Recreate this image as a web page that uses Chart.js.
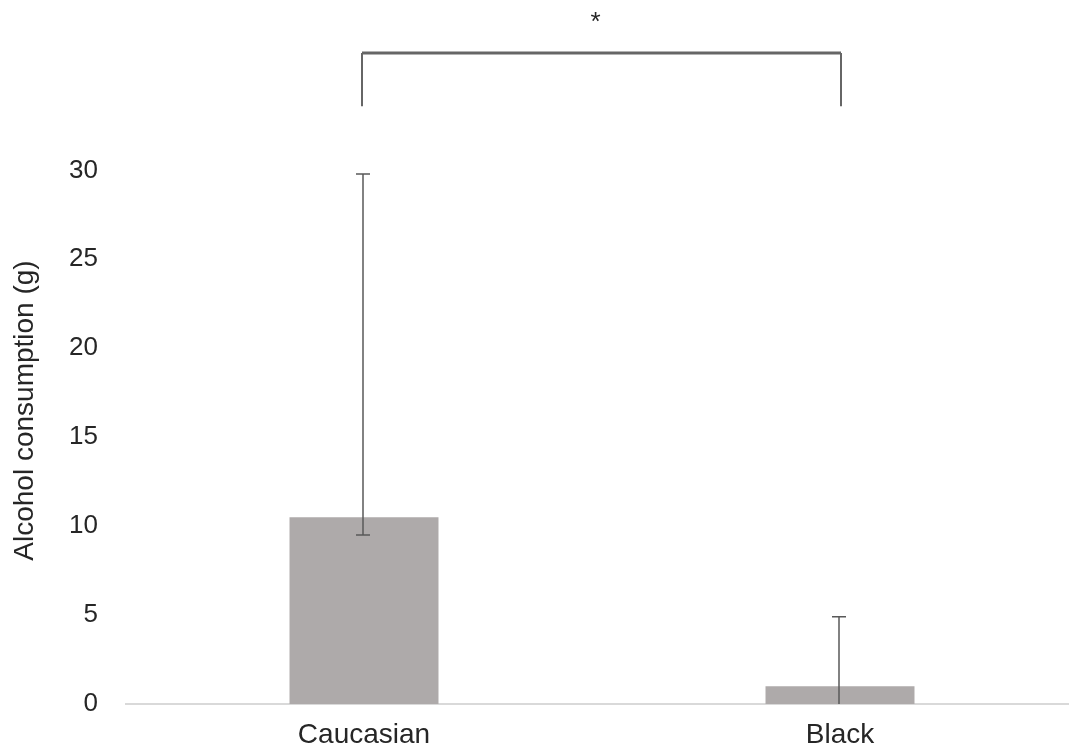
<!DOCTYPE html>
<html>
<head>
<meta charset="utf-8">
<title>Alcohol consumption</title>
<script src="https://cdn.jsdelivr.net/npm/chart.js@4.4.1/dist/chart.umd.min.js"></script>
<style>
  html, body { margin: 0; padding: 0; background: #fff; overflow: hidden; }
  #wrap { width: 1069px; height: 751px; overflow: hidden; }
</style>
</head>
<body>
<div id="wrap">
  <canvas id="chart" width="1078" height="751"></canvas>
</div>
<script>
// ----- DATA -----

const groups = ["Caucasian", "Black"];
const meanGrams = [10.5, 1.0];
const errLow = [9.5, 0];
const errHigh = [29.8, 4.9];
const yTicks = [0, 5, 10, 15, 20, 25, 30];

// significance bracket between the two groups (in y units)
const bracketLevel = 36.6;
const bracketFoot = 33.6;
const starLevel = 38.5;
const starText = "*";

const TEXT = "#262626";
const FONT = "'Liberation Sans', Arial, sans-serif";

// ----- PLUGINS -----

// vertical whiskers with caps
const errorBars = {
  id: "errorBars",
  afterDatasetsDraw(chart) {
    const { ctx, scales } = chart;
    const x = scales.x;
    const y = scales.y;
    ctx.save();
    ctx.strokeStyle = "#595959";
    ctx.lineWidth = 1.5;
    groups.forEach((g, i) => {
      const cx = x.getPixelForValue(i) - 1;
      const top = y.getPixelForValue(errHigh[i]);
      const bot = y.getPixelForValue(errLow[i]);
      ctx.beginPath();
      ctx.moveTo(cx, top);
      ctx.lineTo(cx, bot);
      ctx.moveTo(cx - 7, top);
      ctx.lineTo(cx + 7, top);
      if (errLow[i] > 0) {
        ctx.moveTo(cx - 7, bot);
        ctx.lineTo(cx + 7, bot);
      }
      ctx.stroke();
    });
    ctx.restore();
  },
};

// bracket + asterisk above the plot
const sigBracket = {
  id: "sigBracket",
  afterDraw(chart) {
    const { ctx, scales } = chart;
    const x1 = scales.x.getPixelForValue(0) - 2;
    const x2 = scales.x.getPixelForValue(1) + 1;
    const yTop = scales.y.getPixelForValue(bracketLevel);
    const yFoot = scales.y.getPixelForValue(bracketFoot);
    ctx.save();
    ctx.strokeStyle = "#666";
    ctx.lineWidth = 2;
    ctx.beginPath();
    ctx.moveTo(x1, yFoot);
    ctx.lineTo(x1, yTop);
    ctx.moveTo(x2, yTop);
    ctx.lineTo(x2, yFoot);
    ctx.stroke();
    ctx.lineWidth = 3;
    ctx.beginPath();
    ctx.moveTo(x1, yTop);
    ctx.lineTo(x2, yTop);
    ctx.stroke();
    ctx.fillStyle = TEXT;
    ctx.font = "26px " + FONT;
    ctx.textAlign = "center";
    ctx.textBaseline = "middle";
    ctx.fillText(starText, (x1 + x2) / 2 - 6, scales.y.getPixelForValue(starLevel) + 4);
    ctx.restore();
  },
};

// ----- CHART -----

new Chart(document.getElementById("chart"), {
  type: "bar",
  data: {
    labels: groups,
    datasets: [
      {
        data: meanGrams,
        backgroundColor: "#aeaaaa",
        borderWidth: 0,
        categoryPercentage: 1,
        barPercentage: 0.313,
      },
    ],
  },
  options: {
    responsive: false,
    animation: false,
    layout: { padding: { top: 117, left: 0, right: 0, bottom: 0 } },
    plugins: {
      legend: { display: false },
      tooltip: { enabled: false },
    },
    scales: {
      x: {
        grid: { display: false, drawTicks: false },
        border: { display: true, color: "#d9d9d9", width: 2 },
        ticks: {
          color: TEXT,
          padding: 14,
          font: { family: FONT, size: 28 },
        },
        afterFit: (scale) => {
          scale.height = 47;
        },
      },
      y: {
        min: 0,
        max: 33,
        grid: { display: false, drawTicks: false },
        border: { display: false },
        afterBuildTicks: (scale) => {
          scale.ticks = yTicks.map((v) => ({ value: v }));
        },
        ticks: {
          color: TEXT,
          padding: 28,
          font: { family: FONT, size: 26 },
        },
        title: {
          display: true,
          text: "Alcohol consumption (g)",
          color: TEXT,
          padding: { top: 8, bottom: 0 },
          font: { family: FONT, size: 28 },
        },
        afterFit: (scale) => {
          scale.width = 126;
        },
      },
    },
  },
  plugins: [errorBars, sigBracket],
});
</script>
</body>
</html>
